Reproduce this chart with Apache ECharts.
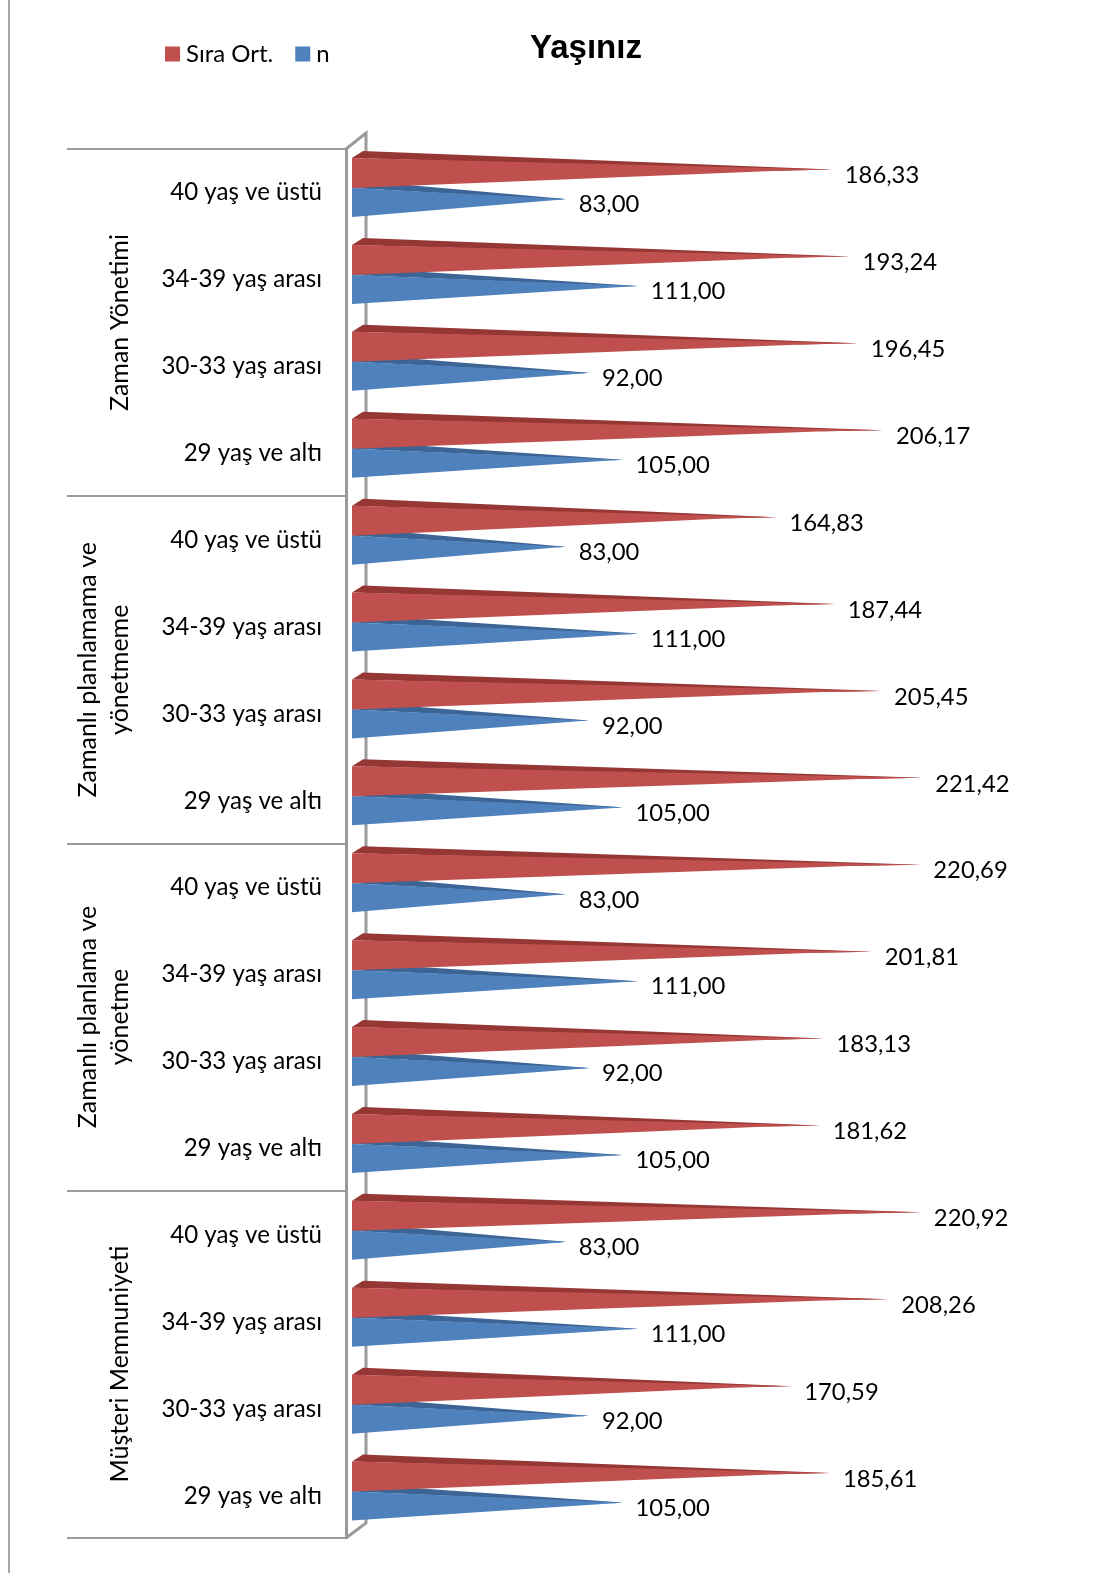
<!DOCTYPE html>
<html><head><meta charset="utf-8">
<style>html,body{margin:0;padding:0;background:#fff}#c{width:1097px;height:1573px}</style>
<script src="https://cdn.jsdelivr.net/npm/echarts@6/dist/echarts.min.js"></script>
</head><body><div id="c"></div>
<script>
const ageLabels = ['40 yaş ve üstü','34-39 yaş arası','30-33 yaş arası','29 yaş ve altı',
  '40 yaş ve üstü','34-39 yaş arası','30-33 yaş arası','29 yaş ve altı',
  '40 yaş ve üstü','34-39 yaş arası','30-33 yaş arası','29 yaş ve altı',
  '40 yaş ve üstü','34-39 yaş arası','30-33 yaş arası','29 yaş ve altı'];
const groupLabels = ['Zaman Yönetimi','Zamanlı planlamama ve\nyönetmeme','Zamanlı planlama ve\nyönetme','Müşteri Memnuniyeti'];
const siraOrt = [186.33,193.24,196.45,206.17, 164.83,187.44,205.45,221.42, 220.69,201.81,183.13,181.62, 220.92,208.26,170.59,185.61];
const nValues = [83,111,92,105, 83,111,92,105, 83,111,92,105, 83,111,92,105];

const FONT = 'Lato';
const GREY = '#9a9a9a';
const spike = (s) => (params, api) => {
  const base = api.coord([0, api.value(1)]);
  const tip = api.coord([api.value(0), api.value(1)]);
  const c = base[1];
  const T = [tip[0], c + s.tipY];
  const A = [base[0] + (tip[0]-base[0])*s.apexAt, c + s.apexY];
  return { type:'group', children:[
    { type:'polygon', shape:{points:[[base[0], c+s.top],[base[0]+11, c+s.top-7],T,A]}, style:{fill:s.dark} },
    { type:'polygon', shape:{points:[[base[0], c+s.top],[base[0], c+s.bottom],A,T]}, style:{fill:s.front} },
    { type:'text', style:{x:tip[0]+13, y:c+s.labelY, text:api.value(0).toFixed(2).replace('.',','), fill:'#000',
        fontFamily:FONT, fontSize:23.8, align:'left', verticalAlign:'middle'} }
  ]};
};
const series = (name, values, color, render, z) => ({
  name, type:'custom', xAxisIndex:0, yAxisIndex:0, z,
  coordinateSystem:'cartesian2d', encode:{x:0,y:1},
  itemStyle:{color}, renderItem:render, silent:true,
  data: values.map((v,i)=>[v,i])
});
const chart = echarts.init(document.getElementById('c'), null, {renderer:'canvas'});
chart.setOption({
  animation:false, backgroundColor:'#fff',
  title:{text:'Yaşınız', left:581, top:27, textAlign:'center',
    textStyle:{fontFamily:'Liberation Sans', fontSize:33, fontWeight:'bold', color:'#000'}},
  legend:{left:160, top:37, itemWidth:15, itemHeight:15, itemGap:22, icon:'rect', selectedMode:false,
    data:['Sıra Ort.','n'], textStyle:{fontFamily:FONT, fontSize:24, color:'#000', padding:[0,0,0,1]}},
  grid:[
    {left:352, top:149, width:721, height:1390.4},
    {left:352, top:149, width:721, height:1388.7}
  ],
  xAxis:[
    {type:'value', gridIndex:0, min:0, max:280, show:false},
    {type:'value', gridIndex:1, min:0, max:280, show:false}
  ],
  yAxis:[
    {type:'category', gridIndex:0, inverse:true, data:ageLabels, offset:6,
      axisLine:{show:false, onZero:false}, axisTick:{show:false},
      axisLabel:{interval:0, margin:24, fontFamily:FONT, fontSize:24.1, color:'#000', padding:[4,0,0,0]}},
    {type:'category', gridIndex:1, inverse:true, data:groupLabels, offset:6, position:'left',
      axisLine:{show:true, onZero:false, lineStyle:{color:GREY, width:3}},
      axisTick:{show:true, length:279, interval:0, lineStyle:{color:GREY, width:2}},
      axisLabel:{interval:0, margin:210, rotate:90, fontFamily:FONT, fontSize:25, lineHeight:32, color:'#000', align:'center', verticalAlign:'bottom'}}
  ],
  graphic:[
    {type:'line', z:0, shape:{x1:9,y1:0,x2:9,y2:1573}, style:{stroke:'#a6a6a6', lineWidth:2}},
    {type:'polyline', z:0, shape:{points:[[346,149],[366,133],[366,1523],[346,1538]]}, style:{stroke:GREY, lineWidth:3, fill:'none'}}
  ],
  series:[
    series('Sıra Ort.', siraOrt, '#C0504D', spike({front:'#C0504D',dark:'#953735',top:-34.4,bottom:-4.4,tipY:-22.9,apexAt:0.89,apexY:-21.8,labelY:-16.9}), 3),
    series('n', nValues, '#4F81BD', spike({front:'#4F81BD',dark:'#3C6494',top:-4.4,bottom:24.6,tipY:6.6,apexAt:0.97,apexY:7.2,labelY:12.2}), 2)
  ]
});
</script></body></html>
